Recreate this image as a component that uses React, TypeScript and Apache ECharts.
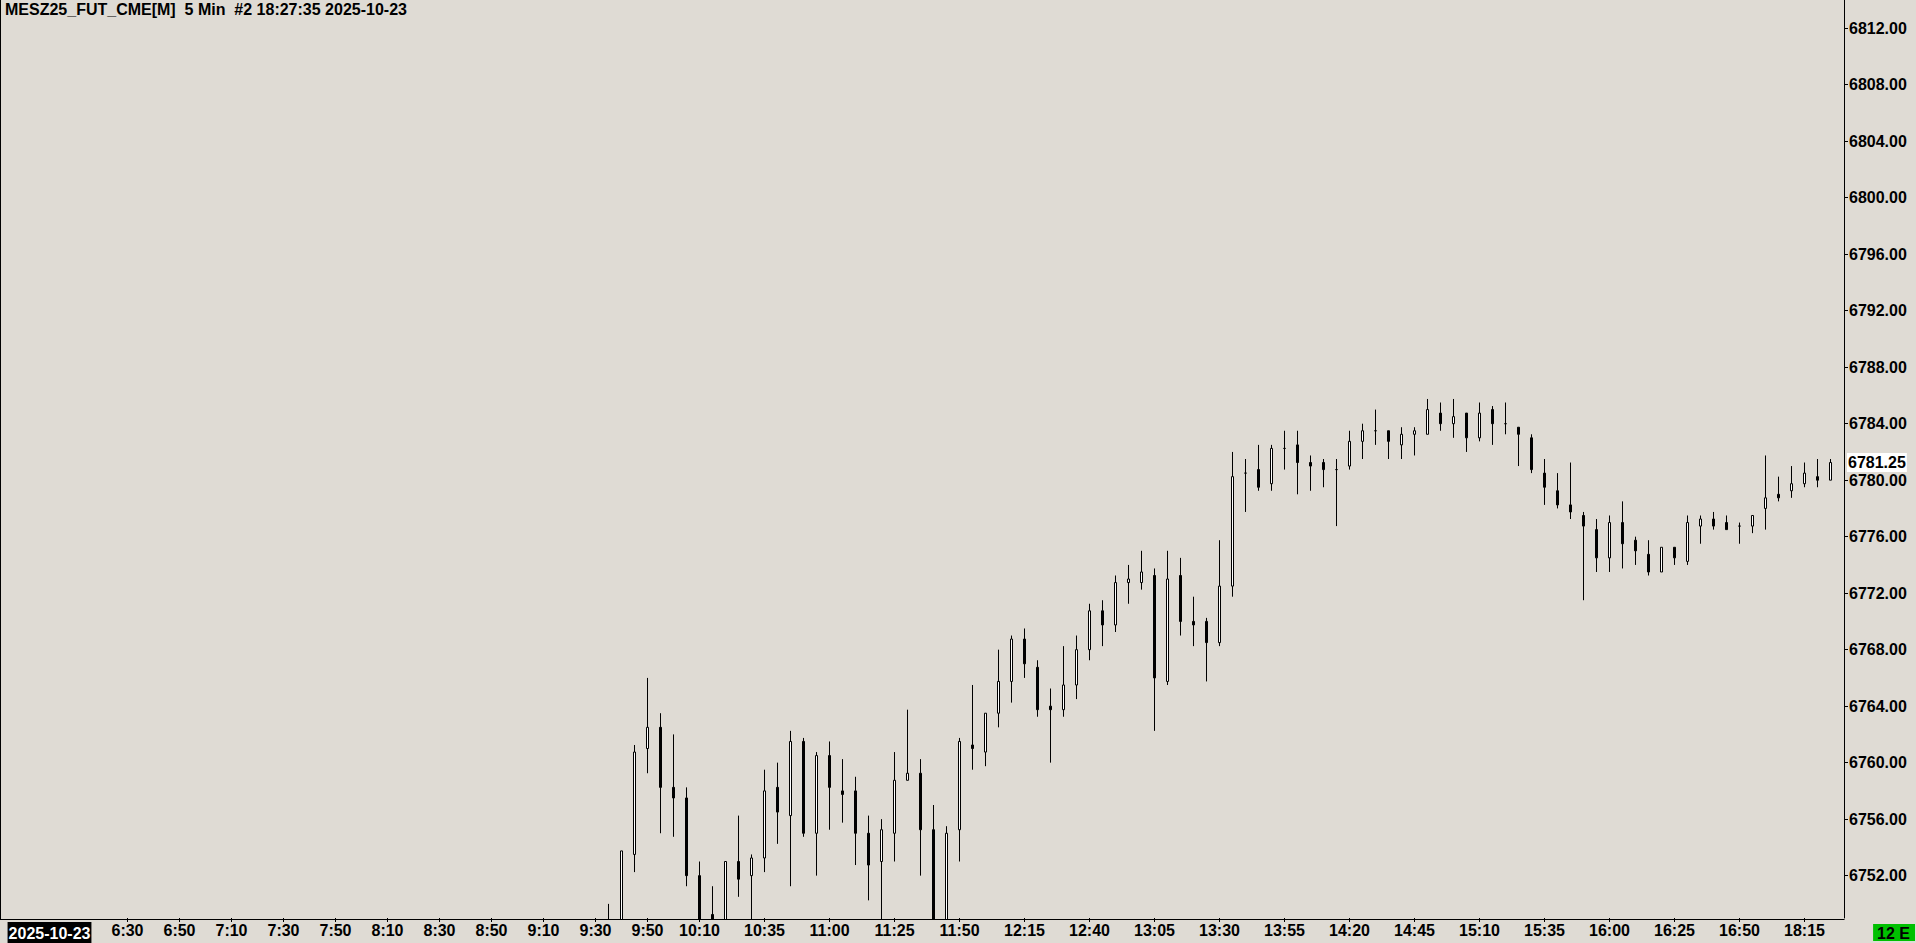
import { useEffect, useRef } from 'react';
import * as echarts from 'echarts';

const TITLE = 'MESZ25_FUT_CME[M]  5 Min  #2 18:27:35 2025-10-23';
const DATE_LABEL = '2025-10-23';
const DATE_AT = '6:00';
const STATUS = '12 E';

// Two trading sessions (5-minute bars), the break is between 16:55 and 18:00
const SESSION_A: [string, string] = ['5:45', '16:55'];
const SESSION_B: [string, string] = ['18:00', '18:30'];

const xTickLabels = [
  '6:30', '6:50', '7:10', '7:30', '7:50', '8:10', '8:30', '8:50', '9:10', '9:30', '9:50', '10:10',
  '10:35', '11:00', '11:25', '11:50', '12:15', '12:40', '13:05', '13:30', '13:55', '14:20', '14:45',
  '15:10', '15:35', '16:00', '16:25', '16:50', '18:15',
];

const yTickValues = [6752, 6756, 6760, 6764, 6768, 6772, 6776, 6780, 6784, 6788, 6792, 6796, 6800, 6804, 6808, 6812];
const Y_MIN = 6749;
const Y_MAX = 6814;

// [time, open, close, low, high]
const candles: [string, number, number, number, number][] = [
  ['9:35', 6746.5, 6747.75, 6745.75, 6750],
  ['9:40', 6747.75, 6753.75, 6747.25, 6753.75],
  ['9:45', 6753.5, 6760.75, 6752.25, 6761.25],
  ['9:50', 6761, 6762.5, 6759.25, 6766],
  ['9:55', 6762.5, 6758.25, 6755, 6763.5],
  ['10:00', 6758.25, 6757.5, 6754.75, 6762],
  ['10:05', 6757.5, 6752, 6751.25, 6758.25],
  ['10:10', 6752, 6748.5, 6747.5, 6753],
  ['10:15', 6749.25, 6748.5, 6748, 6751.25],
  ['10:20', 6748.5, 6753, 6748.25, 6753],
  ['10:25', 6753, 6751.75, 6750.5, 6756.25],
  ['10:30', 6752, 6753.25, 6748.5, 6753.5],
  ['10:35', 6753.25, 6758, 6752.25, 6759.5],
  ['10:40', 6758.25, 6756.5, 6754.25, 6760],
  ['10:45', 6756.25, 6761.5, 6751.25, 6762.25],
  ['10:50', 6761.5, 6755, 6754.75, 6761.75],
  ['10:55', 6755, 6760.5, 6752, 6760.75],
  ['11:00', 6760.5, 6758.25, 6755.25, 6761.5],
  ['11:05', 6758, 6757.75, 6755.75, 6760.25],
  ['11:10', 6758, 6755, 6752.75, 6759],
  ['11:15', 6755, 6752.75, 6750.25, 6756.25],
  ['11:20', 6753, 6755.25, 6748.75, 6756],
  ['11:25', 6755, 6758.75, 6753, 6760.75],
  ['11:30', 6758.75, 6759.25, 6758.75, 6763.75],
  ['11:35', 6759.25, 6755.25, 6752, 6760.25],
  ['11:40', 6755.25, 6748.5, 6748, 6757],
  ['11:45', 6748.5, 6755, 6748.25, 6755.5],
  ['11:50', 6755.25, 6761.5, 6753, 6761.75],
  ['11:55', 6761.25, 6761, 6759.5, 6765.5],
  ['12:00', 6760.75, 6763.5, 6759.75, 6763.5],
  ['12:05', 6763.5, 6765.75, 6762.5, 6768],
  ['12:10', 6765.75, 6768.75, 6764.25, 6769],
  ['12:15', 6768.75, 6767, 6766, 6769.5],
  ['12:20', 6766.75, 6763.75, 6763.25, 6767.25],
  ['12:25', 6764, 6763.75, 6760, 6765.25],
  ['12:30', 6763.75, 6765.5, 6763.25, 6768.25],
  ['12:35', 6765.5, 6768, 6764.5, 6769],
  ['12:40', 6768, 6770.75, 6767.25, 6771.25],
  ['12:45', 6770.75, 6769.75, 6768.25, 6771.5],
  ['12:50', 6769.75, 6772.75, 6769.25, 6773.25],
  ['12:55', 6772.75, 6773, 6771.25, 6774],
  ['13:00', 6772.75, 6773.5, 6772.25, 6775],
  ['13:05', 6773.25, 6766, 6762.25, 6773.75],
  ['13:10', 6765.75, 6773, 6765.5, 6775],
  ['13:15', 6773.25, 6770, 6769, 6774.5],
  ['13:20', 6770, 6769.75, 6768.25, 6771.75],
  ['13:25', 6770, 6768.5, 6765.75, 6770.25],
  ['13:30', 6768.5, 6772.5, 6768.25, 6775.75],
  ['13:35', 6772.5, 6780.25, 6771.75, 6782],
  ['13:40', 6780.5, 6780.5, 6777.75, 6781.5],
  ['13:45', 6780.75, 6779.5, 6779.25, 6782.5],
  ['13:50', 6779.75, 6782.25, 6779.25, 6782.5],
  ['13:55', 6782.25, 6782.25, 6780.75, 6783.5],
  ['14:00', 6782.5, 6781.25, 6779, 6783.5],
  ['14:05', 6781.25, 6781, 6779.25, 6781.75],
  ['14:10', 6781.25, 6780.75, 6779.5, 6781.5],
  ['14:15', 6780.75, 6780.75, 6776.75, 6781.5],
  ['14:20', 6781, 6782.75, 6780.75, 6783.5],
  ['14:25', 6782.75, 6783.5, 6781.5, 6784],
  ['14:30', 6783.5, 6783.5, 6782.5, 6785],
  ['14:35', 6783.5, 6782.75, 6781.5, 6783.5],
  ['14:40', 6782.5, 6783.25, 6781.5, 6783.75],
  ['14:45', 6783.25, 6783.5, 6781.75, 6783.75],
  ['14:50', 6783.25, 6785, 6783.25, 6785.75],
  ['14:55', 6784.75, 6784, 6783.5, 6785.5],
  ['15:00', 6784, 6784.5, 6783, 6785.75],
  ['15:05', 6784.75, 6783, 6782, 6784.75],
  ['15:10', 6783, 6784.75, 6782.75, 6785.5],
  ['15:15', 6785, 6784, 6782.5, 6785.25],
  ['15:20', 6784, 6784, 6783.25, 6785.5],
  ['15:25', 6783.75, 6783.25, 6781, 6783.75],
  ['15:30', 6783, 6780.75, 6780.5, 6783.25],
  ['15:35', 6780.5, 6779.5, 6778.25, 6781.5],
  ['15:40', 6779.25, 6778.25, 6778, 6780.5],
  ['15:45', 6778.25, 6777.75, 6777.25, 6781.25],
  ['15:50', 6777.5, 6776.75, 6771.5, 6777.75],
  ['15:55', 6776.5, 6774.5, 6773.5, 6777.25],
  ['16:00', 6774.5, 6777, 6773.5, 6777.5],
  ['16:05', 6777, 6775.5, 6773.75, 6778.5],
  ['16:10', 6775.75, 6775, 6774, 6776],
  ['16:15', 6774.75, 6773.5, 6773.25, 6775.75],
  ['16:20', 6773.5, 6775.25, 6773.5, 6775.25],
  ['16:25', 6775.25, 6774.5, 6774, 6775.25],
  ['16:30', 6774.25, 6777, 6774, 6777.5],
  ['16:35', 6776.75, 6777.25, 6775.5, 6777.5],
  ['16:40', 6777.25, 6776.75, 6776.5, 6777.75],
  ['16:45', 6777, 6776.5, 6776.5, 6777.5],
  ['16:50', 6776.75, 6776.75, 6775.5, 6777],
  ['16:55', 6776.75, 6777.5, 6776.25, 6777.5],
  ['18:00', 6778, 6778.75, 6776.5, 6781.75],
  ['18:05', 6779, 6778.75, 6778.5, 6780.25],
  ['18:10', 6779.25, 6779.75, 6778.75, 6781],
  ['18:15', 6779.75, 6780.5, 6779.5, 6781.25],
  ['18:20', 6780.25, 6780, 6779.5, 6781.5],
  ['18:25', 6780, 6781.25, 6780, 6781.5],
];

const FONT = '"Liberation Sans", Arial, Helvetica, sans-serif';
const BG = '#dfdbd4';

function timeRange(from: string, to: string): string[] {
  const out: string[] = [];
  let [h, m] = from.split(':').map(Number);
  const [eh, em] = to.split(':').map(Number);
  while (h * 60 + m <= eh * 60 + em) {
    out.push(`${h}:${String(m).padStart(2, '0')}`);
    m += 5;
    if (m >= 60) {
      m -= 60;
      h += 1;
    }
  }
  return out;
}

export default function App() {
  const ref = useRef<HTMLDivElement>(null);

  useEffect(() => {
    document.body.style.margin = '0';
    document.body.style.background = BG;
    if (!ref.current) return;
    const chart = echarts.init(ref.current, undefined, { renderer: 'svg' });

    const categories = [...timeRange(SESSION_A[0], SESSION_A[1]), ...timeRange(SESSION_B[0], SESSION_B[1])];
    const byTime = new Map(candles.map((c) => [c[0], c]));
    const seriesData = categories.map((t) => {
      const c = byTime.get(t);
      return c ? [c[1], c[2], c[3], c[4]] : ['-', '-', '-', '-'];
    });
    const lastClose = candles[candles.length - 1][2];
    const labelSet = new Set(xTickLabels);

    const labelStyle = {
      color: '#000',
      fontSize: 16,
      fontWeight: 'bold' as const,
      fontFamily: FONT,
    };

    chart.setOption({
      animation: false,
      backgroundColor: BG,
      title: {
        text: TITLE,
        left: 5,
        top: 1,
        padding: 0,
        z: 10,
        textStyle: { ...labelStyle },
      },
      grid: { left: 4, right: 66, top: 0, bottom: 23.5, containLabel: false },
      xAxis: {
        type: 'category',
        data: categories,
        boundaryGap: true,
        z: 10,
        axisLine: { show: false },
        axisTick: {
          show: true,
          alignWithLabel: true,
          length: 4,
          interval: (_i: number, v: string) => labelSet.has(v),
          lineStyle: { color: '#000', width: 1 },
        },
        axisLabel: {
          ...labelStyle,
          margin: 4,
          interval: (_i: number, v: string) => labelSet.has(v) || v === DATE_AT,
          formatter: (v: string) => (v === DATE_AT ? `{d|${DATE_LABEL}}` : v),
          rich: {
            d: {
              ...labelStyle,
              color: '#fff',
              backgroundColor: '#000',
              padding: [3, 1, 2, 1],
            },
          },
        },
        splitLine: { show: false },
      },
      yAxis: [
        {
          type: 'value',
          position: 'right',
          min: Y_MIN,
          max: Y_MAX,
          offset: -6,
          z: 10,
          axisLine: { show: true, lineStyle: { color: '#000', width: 1 } },
          axisTick: { show: true, length: 4, customValues: yTickValues, lineStyle: { color: '#000' } },
          axisLabel: {
            ...labelStyle,
            margin: 5,
            customValues: yTickValues,
            formatter: (v: number) => v.toFixed(2),
          },
          splitLine: { show: false },
        },
        {
          type: 'value',
          position: 'right',
          min: Y_MIN,
          max: Y_MAX,
          offset: -6,
          z: 11,
          axisLine: { show: false },
          axisTick: { show: false },
          axisLabel: {
            ...labelStyle,
            margin: 3,
            customValues: [lastClose],
            formatter: (v: number) => v.toFixed(2),
            backgroundColor: '#fff',
            padding: [2, 1, 1, 1],
          },
          splitLine: { show: false },
        },
      ],
      series: [
        {
          type: 'candlestick',
          data: seriesData,
          barWidth: 2,
          clip: true,
          silent: true,
          z: 2,
          itemStyle: {
            color: '#ffffff',
            color0: '#000000',
            borderColor: '#000000',
            borderColor0: '#000000',
            borderColorDoji: '#000000',
            borderWidth: 1,
          },
          emphasis: { disabled: true },
        },
      ],
      graphic: [
        {
          // masks candle parts that run below the plot's bottom edge
          type: 'rect',
          z: 5,
          shape: { x: 0, y: 920, width: 1916, height: 23 },
          style: { fill: BG },
          silent: true,
        },
        {
          type: 'line',
          z: 12,
          shape: { x1: 0.5, y1: 0, x2: 0.5, y2: 920 },
          style: { stroke: '#000', lineWidth: 1 },
          silent: true,
        },
        {
          type: 'line',
          z: 12,
          shape: { x1: 0, y1: 919.5, x2: 1844.5, y2: 919.5 },
          style: { stroke: '#000', lineWidth: 1 },
          silent: true,
        },
        {
          type: 'text',
          z: 12,
          right: 1,
          bottom: 2,
          style: {
            text: STATUS,
            fill: '#000',
            font: `bold 16px ${FONT}`,
            backgroundColor: '#00c000',
            padding: [1, 5, 0, 4],
          },
          silent: true,
        },
      ],
    });

    return () => chart.dispose();
  }, []);

  return <div ref={ref} style={{ width: 1916, height: 943 }} />;
}
